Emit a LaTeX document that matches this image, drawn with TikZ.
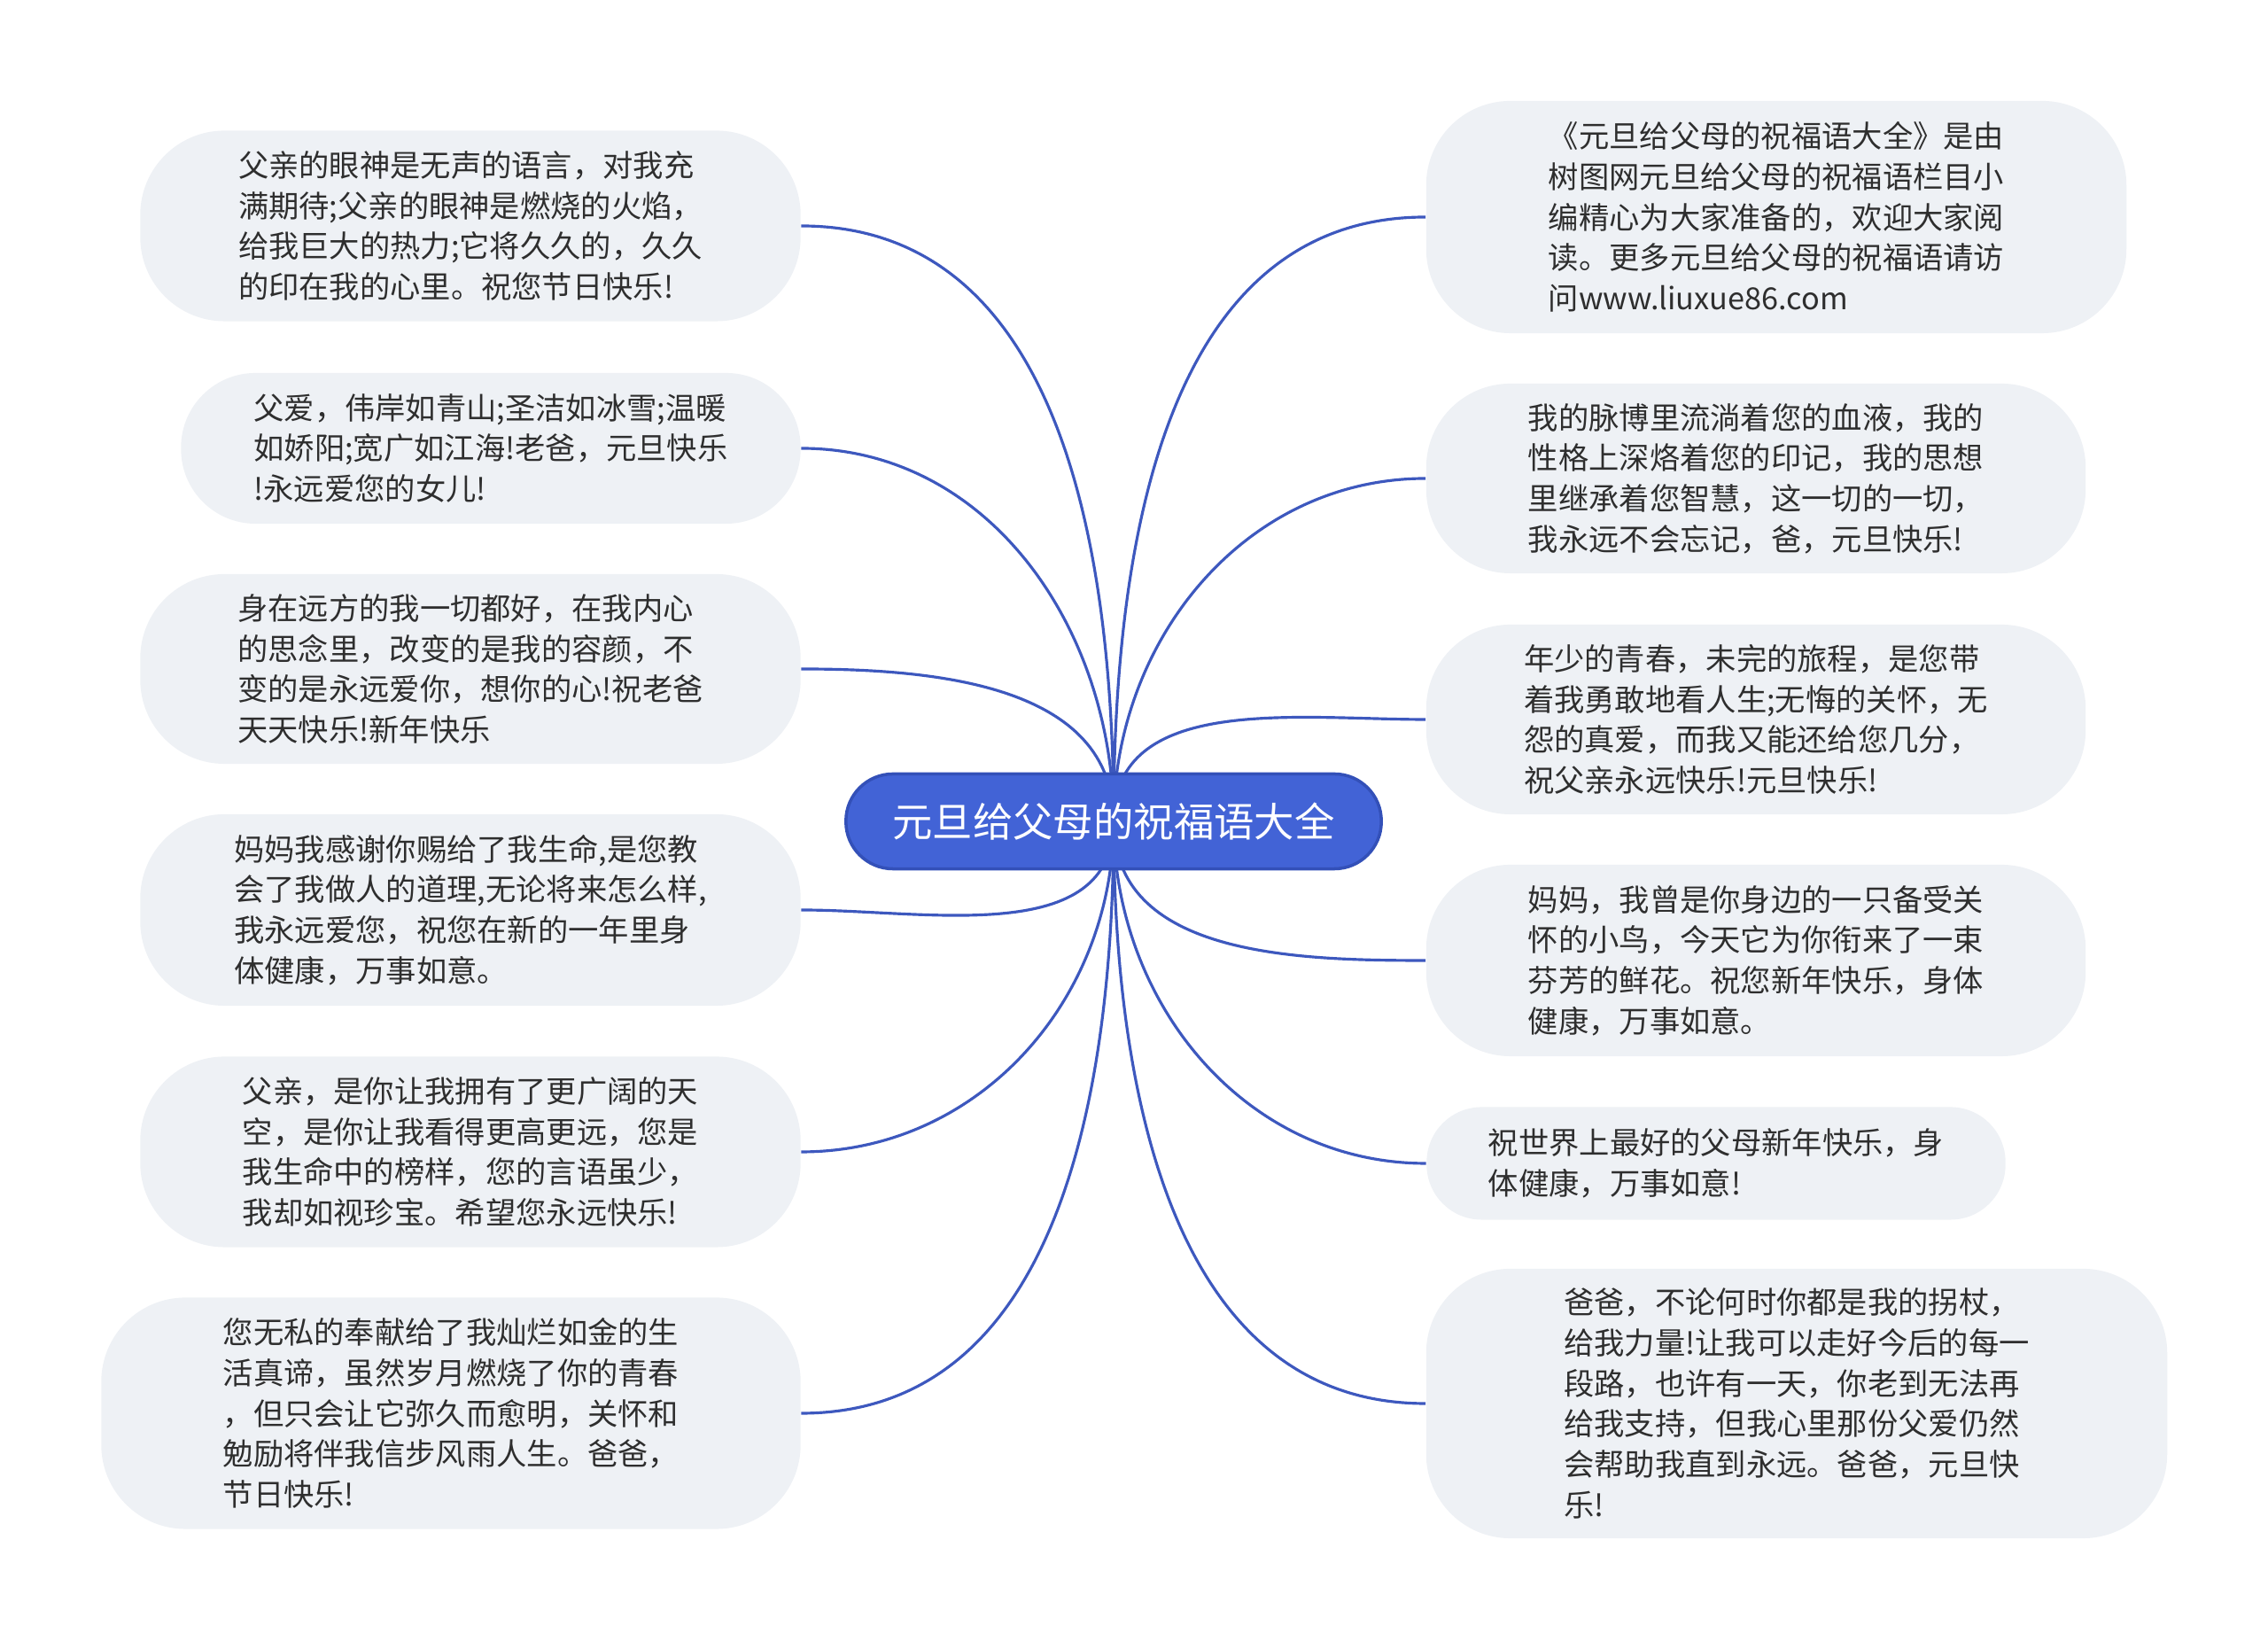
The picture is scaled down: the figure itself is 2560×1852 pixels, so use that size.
\documentclass[tikz,border=0pt]{standalone}
\usepackage{fontspec}
\newfontfamily\cjk{Noto Sans CJK SC}
\usetikzlibrary{backgrounds}

\definecolor{linkblue}{HTML}{3D58BE}
\definecolor{hubblue}{HTML}{4263D6}
\definecolor{hubedge}{HTML}{3350B8}
\definecolor{leafgray}{HTML}{EEF1F5}
\definecolor{inkgray}{HTML}{2E2E2E}

\begin{document}
\begin{tikzpicture}[x=0.01cm, y=0.01cm,
                hub/.style={draw=hubedge, line width=1pt, fill=hubblue, rounded corners=0.53cm, minimum width=6.04cm, minimum height=1.07cm, text=white, font=\cjk\fontsize{12.9pt}{15pt}\selectfont},
                leaf/.style={fill=leafgray, rounded corners=0.95cm, align=left, inner sep=0pt, text=inkgray, font=\cjk\fontsize{9.75pt}{13pt}\selectfont},
                link/.style={draw=linkblue, line width=0.9pt}]

                \useasboundingbox (0,0) rectangle (2560,1852);

                % Central topic
                \node[hub] (hub) at (1257,925) {元旦给父母的祝福语大全};

                % Left branches
                \node[leaf, minimum width=7.45cm, minimum height=2.15cm] (l1) at (531,1597) {父亲的眼神是无声的语言，对我充\\满期待;父亲的眼神是燃烧的火焰，\\给我巨大的热力;它将久久的，久久\\的印在我的心里。祝您节日快乐!};
                \node[leaf, minimum width=6.99cm, minimum height=1.70cm, rounded corners=0.84cm] (l2) at (554,1346) {父爱，伟岸如青山;圣洁如冰雪;温暖\\如娇阳;宽广如江海!老爸，元旦快乐\\!永远爱您的女儿!};
                \node[leaf, minimum width=7.45cm, minimum height=2.14cm] (l3) at (531,1097) {身在远方的我一切都好，在我内心\\的思念里，改变的是我的容颜，不\\变的是永远爱你，想你的心!祝老爸\\天天快乐!新年快乐};
                \node[leaf, minimum width=7.45cm, minimum height=2.16cm] (l4) at (531,825) {妈妈我感谢你赐给了我生命,是您教\\会了我做人的道理,无论将来怎么样,\\我永远爱您，祝您在新的一年里身\\体健康，万事如意。};
                \node[leaf, minimum width=7.45cm, minimum height=2.15cm] (l5) at (531,552) {父亲，是你让我拥有了更广阔的天\\空，是你让我看得更高更远，您是\\我生命中的榜样，您的言语虽少，\\我却如视珍宝。希望您永远快乐!};
                \node[leaf, minimum width=7.89cm, minimum height=2.61cm] (l6) at (509,257) {您无私的奉献给了我灿烂如金的生\\活真谛，虽然岁月燃烧了你的青春\\，但只会让它弥久而愈明，关怀和\\勉励将伴我信步风雨人生。爸爸，\\节日快乐!};

                % Right branches
                \node[leaf, minimum width=7.90cm, minimum height=2.62cm] (r1) at (2005,1607) {《元旦给父母的祝福语大全》是由\\树图网元旦给父母的祝福语栏目小\\编精心为大家准备的，欢迎大家阅\\读。更多元旦给父母的祝福语请访\\问www.liuxue86.com};
                \node[leaf, minimum width=7.44cm, minimum height=2.14cm] (r2) at (1982,1312) {我的脉博里流淌着您的血液，我的\\性格上深烙着您的印记，我的思想\\里继承着您智慧，这一切的一切，\\我永远不会忘记，爸，元旦快乐!};
                \node[leaf, minimum width=7.44cm, minimum height=2.14cm] (r3) at (1982,1040) {年少的青春，未完的旅程，是您带\\着我勇敢地看人生;无悔的关怀，无\\怨的真爱，而我又能还给您几分，\\祝父亲永远快乐!元旦快乐!};
                \node[leaf, minimum width=7.44cm, minimum height=2.16cm] (r4) at (1982,768) {妈妈，我曾是你身边的一只备受关\\怀的小鸟，今天它为你衔来了一束\\芬芳的鲜花。祝您新年快乐，身体\\健康，万事如意。};
                \node[leaf, minimum width=6.53cm, minimum height=1.27cm, rounded corners=0.62cm] (r5) at (1937,539) {祝世界上最好的父母新年快乐，身\\体健康，万事如意!};
                \node[leaf, minimum width=8.36cm, minimum height=3.04cm] (r6) at (2028,268) {爸爸，不论何时你都是我的拐杖，\\给我力量!让我可以走好今后的每一\\段路，也许有一天，你老到无法再\\给我支持，但我心里那份父爱仍然\\会帮助我直到永远。爸爸，元旦快\\乐!};

                % Curved links behind the nodes
                \begin{scope}[on background layer]
                    \draw[link] (hub.center) to[out=90, in=0] (l1.east);
                    \draw[link] (hub.center) to[out=90, in=0] (l2.east);
                    \draw[link] (hub.center) to[out=90, in=0] (l3.east);
                    \draw[link] (hub.center) to[out=270, in=0] (l4.east);
                    \draw[link] (hub.center) to[out=270, in=0] (l5.east);
                    \draw[link] (hub.center) to[out=270, in=0] (l6.east);
                    \draw[link] (hub.center) to[out=90, in=180] (r1.west);
                    \draw[link] (hub.center) to[out=90, in=180] (r2.west);
                    \draw[link] (hub.center) to[out=90, in=180] (r3.west);
                    \draw[link] (hub.center) to[out=270, in=180] (r4.west);
                    \draw[link] (hub.center) to[out=270, in=180] (r5.west);
                    \draw[link] (hub.center) to[out=270, in=180] (r6.west);
                \end{scope}
\end{tikzpicture}
\end{document}
